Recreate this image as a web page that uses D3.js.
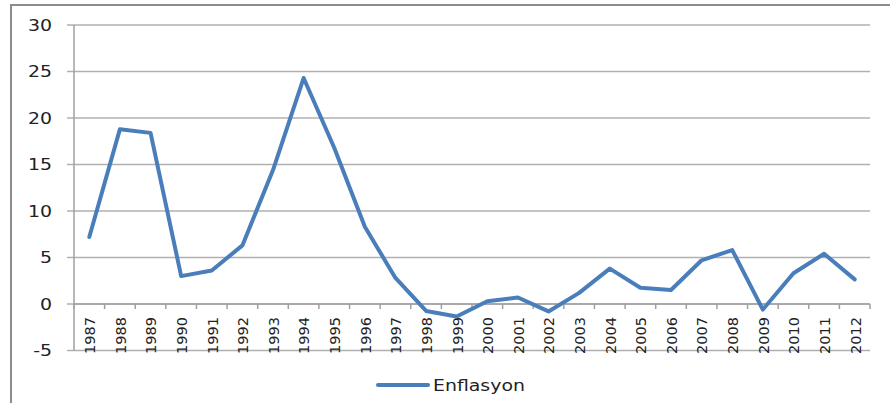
<!DOCTYPE html>
<html>
<head>
<meta charset="utf-8">
<script src="https://cdn.jsdelivr.net/npm/d3@7"></script>
<style>
  body { margin: 0; background: #fff; }
  svg { display: block; }
  text { font-family: "DejaVu Sans", Verdana, sans-serif; fill: #222; }
</style>
</head>
<body>
<div id="chart"></div>
<script>
// data
const years = ["1987","1988","1989","1990","1991","1992","1993","1994","1995","1996",
    "1997","1998","1999","2000","2001","2002","2003","2004","2005","2006",
    "2007","2008","2009","2010","2011","2012"];
const inflation = [7.2, 18.8, 18.4, 3.0, 3.6, 6.3, 14.4, 24.3, 16.8, 8.3,
    2.8, -0.75, -1.35, 0.3, 0.7, -0.8, 1.2, 3.8, 1.75, 1.5,
    4.7, 5.8, -0.6, 3.3, 5.4, 2.65];
const yTicks = [-5, 0, 5, 10, 15, 20, 25, 30];
const seriesName = "Enflasyon";

const W = 890, H = 403;
const stretch = 1.22; // the picture's text is stretched sideways
const margin = { left: 74, right: 20, top: 25, bottom: 52.5 };

const svg = d3.select("#chart").append("svg")
    .attr("width", W)
    .attr("height", H);

// frame (left and top edge only are visible)
svg.append("path")
    .attr("d", `M11,${H} L11,5 L${W},5`)
    .attr("fill", "none")
    .attr("stroke", "#8c8c8c")
    .attr("stroke-width", 2);

const x = d3.scaleBand()
    .domain(years)
    .range([margin.left, W - margin.right]);

const y = d3.scaleLinear()
    .domain([-5, 30])
    .range([H - margin.bottom, margin.top]);

// gridlines + left ticks
svg.append("g")
    .selectAll("line")
    .data(yTicks)
    .enter()
    .append("line")
    .attr("x1", margin.left - 7)
    .attr("x2", W - margin.right)
    .attr("y1", d => y(d))
    .attr("y2", d => y(d))
    .attr("stroke", "#b0b0b0")
    .attr("stroke-width", 1.5);

// y axis line
svg.append("line")
    .attr("x1", margin.left).attr("x2", margin.left)
    .attr("y1", y(30)).attr("y2", y(-5))
    .attr("stroke", "#a0a0a0")
    .attr("stroke-width", 1.5);

// x axis at zero with ticks between categories
const xAxis = svg.append("g").attr("transform", `translate(0, ${y(0)})`);
xAxis.append("line")
    .attr("x1", margin.left).attr("x2", W - margin.right)
    .attr("stroke", "#a0a0a0")
    .attr("stroke-width", 1.5);
xAxis.selectAll("line.tick")
    .data(years.concat(["end"]))
    .enter()
    .append("line")
    .attr("class", "tick")
    .attr("x1", d => d === "end" ? x.range()[1] : x(d))
    .attr("x2", d => d === "end" ? x.range()[1] : x(d))
    .attr("y1", 0)
    .attr("y2", 5)
    .attr("stroke", "#a0a0a0")
    .attr("stroke-width", 1.5);

// y labels
svg.append("g")
    .selectAll("text")
    .data(yTicks)
    .enter()
    .append("text")
    .attr("transform", d => `translate(52, ${y(d)}) scale(${stretch},1)`)
    .attr("text-anchor", "end")
    .attr("dy", "0.36em")
    .attr("font-size", "15.5px")
    .text(d => d);

// x labels, rotated
svg.append("g")
    .selectAll("text")
    .data(years)
    .enter()
    .append("text")
    .attr("transform", d => `translate(${x(d) + x.bandwidth() / 2}, 317) rotate(-90)`)
    .attr("text-anchor", "end")
    .attr("y", 5.8)
    .attr("font-size", "14.5px")
    .text(d => d);

// series line
const line = d3.line()
    .x((d, i) => x(years[i]) + x.bandwidth() / 2)
    .y(d => y(d));

svg.append("path")
    .datum(inflation)
    .attr("d", line)
    .attr("fill", "none")
    .attr("stroke", "#4a7ebb")
    .attr("stroke-width", 4)
    .attr("stroke-linejoin", "round")
    .attr("stroke-linecap", "round");

// legend
const legend = svg.append("g").attr("transform", "translate(378, 385)");
legend.append("line")
    .attr("x1", 0).attr("x2", 50)
    .attr("stroke", "#4a7ebb")
    .attr("stroke-width", 4)
    .attr("stroke-linecap", "round");
legend.append("text")
    .attr("transform", `translate(55, 5.7) scale(${stretch},1)`)
    .attr("font-size", "15.5px")
    .text(seriesName);
</script>
</body>
</html>
